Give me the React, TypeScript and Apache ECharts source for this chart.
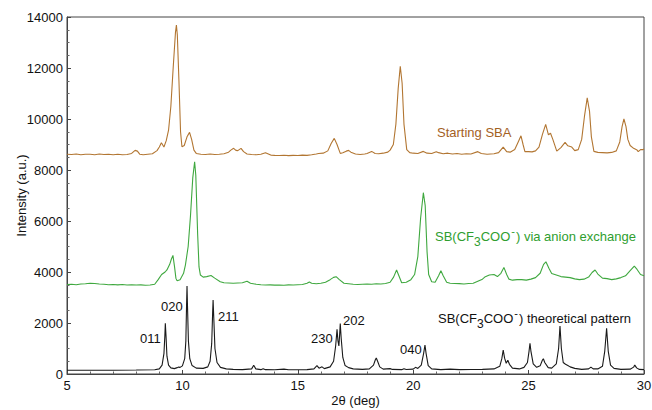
import React, { useEffect, useRef } from "react";
import * as echarts from "echarts";

// 2θ (deg), intensity (a.u.) pairs
const startingSBA: [number, number][] = [
  [5.0, 8620], [5.2, 8610], [5.4, 8630], [5.6, 8600], [5.8, 8620], [6.0, 8615], [6.2, 8600], [6.4, 8625],
  [6.6, 8610], [6.8, 8620], [7.0, 8595], [7.2, 8615], [7.4, 8600], [7.6, 8610], [7.8, 8650], [7.95, 8770],
  [8.05, 8740], [8.15, 8620], [8.3, 8600], [8.5, 8620], [8.7, 8640], [8.9, 8760], [9.0, 8900], [9.09, 9070],
  [9.2, 8900], [9.3, 9150], [9.4, 9560], [9.5, 10500], [9.6, 12000], [9.7, 13400], [9.74, 13680], [9.78, 13300],
  [9.85, 11500], [9.92, 9500], [9.98, 8910], [10.08, 8960], [10.2, 9300], [10.31, 9475], [10.4, 9200], [10.5, 8780],
  [10.6, 8650], [10.8, 8620], [11.0, 8610], [11.2, 8625], [11.4, 8605], [11.6, 8620], [11.8, 8640], [12.0, 8700],
  [12.1, 8780], [12.22, 8850], [12.32, 8770], [12.4, 8760], [12.54, 8850], [12.65, 8720], [12.8, 8630], [13.0, 8610],
  [13.2, 8600], [13.4, 8620], [13.6, 8680], [13.7, 8640], [13.85, 8580], [14.0, 8575], [14.2, 8570], [14.4, 8580],
  [14.6, 8565], [14.8, 8575], [15.0, 8570], [15.2, 8585], [15.4, 8575], [15.6, 8600], [15.8, 8630], [15.9, 8650],
  [16.1, 8660], [16.3, 8750], [16.45, 9050], [16.58, 9240], [16.7, 9000], [16.84, 8650], [16.95, 8680], [17.1, 8740],
  [17.2, 8770], [17.3, 8700], [17.5, 8630], [17.7, 8610], [17.9, 8630], [18.0, 8650], [18.2, 8730], [18.35, 8650],
  [18.5, 8640], [18.7, 8660], [18.9, 8700], [19.0, 8780], [19.14, 9000], [19.25, 9800], [19.35, 11200], [19.44, 12070],
  [19.52, 11400], [19.6, 9800], [19.72, 8800], [19.85, 8680], [20.0, 8660], [20.2, 8650], [20.44, 8730], [20.6, 8660],
  [20.8, 8650], [21.0, 8720], [21.1, 8680], [21.3, 8640], [21.5, 8660], [21.7, 8630], [21.9, 8650], [22.1, 8620],
  [22.3, 8640], [22.5, 8630], [22.8, 8720], [22.95, 8650], [23.2, 8620], [23.5, 8640], [23.7, 8680], [23.9, 8900],
  [24.05, 8720], [24.2, 8700], [24.4, 8800], [24.55, 9100], [24.67, 9340], [24.76, 9000], [24.84, 8720], [25.0, 8720],
  [25.15, 8710], [25.3, 8750], [25.45, 8900], [25.6, 9400], [25.74, 9790], [25.86, 9380], [25.95, 9440], [26.05, 9200],
  [26.22, 8740], [26.4, 8880], [26.58, 9080], [26.7, 8950], [26.87, 8900], [27.0, 8760], [27.15, 8800], [27.3, 9200],
  [27.42, 10100], [27.54, 10830], [27.64, 10300], [27.72, 9300], [27.83, 8730], [28.0, 8690], [28.2, 8680], [28.4, 8670],
  [28.6, 8690], [28.8, 8750], [28.95, 9100], [29.05, 9700], [29.13, 10000], [29.22, 9700], [29.3, 9200], [29.4, 8960],
  [29.55, 8850], [29.7, 8780], [29.75, 8720], [29.85, 8800], [29.96, 8800], [30.0, 8820],
];

const anionExchange: [number, number][] = [
  [5.0, 3510], [5.2, 3520], [5.4, 3500], [5.6, 3530], [5.8, 3540], [6.0, 3560], [6.2, 3550], [6.4, 3530],
  [6.6, 3520], [6.8, 3500], [7.0, 3510], [7.2, 3495], [7.4, 3510], [7.6, 3490], [7.8, 3500], [8.0, 3490],
  [8.2, 3495], [8.4, 3480], [8.6, 3490], [8.8, 3520], [8.95, 3700], [9.1, 3900], [9.25, 4000], [9.33, 4080],
  [9.45, 4300], [9.52, 4500], [9.59, 4650], [9.66, 4200], [9.72, 3750], [9.77, 3660], [9.9, 3700], [10.05, 3950],
  [10.13, 4270], [10.25, 5000], [10.35, 6200], [10.45, 7700], [10.53, 8325], [10.58, 7800], [10.66, 5500], [10.72, 4200],
  [10.78, 3880], [10.9, 3800], [11.05, 3820], [11.24, 3860], [11.4, 3760], [11.64, 3620], [11.8, 3580], [12.0, 3570],
  [12.2, 3560], [12.4, 3570], [12.6, 3580], [12.8, 3640], [12.95, 3560], [13.2, 3520], [13.4, 3500], [13.6, 3490],
  [13.8, 3495], [14.0, 3485], [14.2, 3490], [14.4, 3480], [14.6, 3495], [14.8, 3490], [15.0, 3500], [15.2, 3510],
  [15.4, 3560], [15.5, 3610], [15.6, 3560], [15.8, 3540], [16.0, 3560], [16.2, 3600], [16.4, 3700], [16.55, 3790],
  [16.66, 3815], [16.8, 3700], [17.0, 3560], [17.2, 3540], [17.4, 3520], [17.6, 3510], [17.8, 3520], [18.0, 3530],
  [18.2, 3520], [18.4, 3540], [18.6, 3530], [18.8, 3550], [19.0, 3600], [19.15, 3800], [19.28, 4080], [19.38, 3850],
  [19.5, 3580], [19.7, 3600], [19.9, 3700], [20.06, 3900], [20.2, 4600], [20.32, 6100], [20.44, 7110], [20.52, 6600],
  [20.6, 4800], [20.67, 3900], [20.8, 3620], [20.95, 3600], [21.1, 3850], [21.2, 4050], [21.3, 3850], [21.45, 3600],
  [21.6, 3560], [21.8, 3550], [22.0, 3545], [22.2, 3530], [22.4, 3550], [22.6, 3560], [22.8, 3640], [23.0, 3720],
  [23.1, 3800], [23.3, 3880], [23.5, 3900], [23.65, 3820], [23.8, 3950], [23.93, 4180], [24.05, 3900], [24.15, 3720],
  [24.3, 3680], [24.5, 3700], [24.7, 3700], [24.9, 3680], [25.1, 3720], [25.3, 3780], [25.5, 3950], [25.65, 4300],
  [25.75, 4400], [25.88, 4150], [26.0, 3940], [26.2, 3880], [26.4, 3820], [26.6, 3800], [26.8, 3780], [27.0, 3730],
  [27.2, 3700], [27.4, 3720], [27.6, 3800], [27.75, 3980], [27.88, 4080], [28.0, 3920], [28.2, 3760], [28.4, 3740],
  [28.6, 3700], [28.8, 3730], [29.0, 3780], [29.2, 3850], [29.4, 4050], [29.58, 4230], [29.7, 4100], [29.85, 3900],
  [30.0, 3850],
];

const theoretical: [number, number][] = [
  [5.0, 150], [6.0, 150], [7.0, 150], [8.0, 155], [8.8, 165], [9.0, 200], [9.12, 350], [9.2, 800],
  [9.24, 1500], [9.26, 1990], [9.29, 1500], [9.33, 700], [9.4, 350], [9.5, 240], [9.65, 210], [9.78, 250],
  [9.82, 270], [9.9, 260], [10.0, 320], [10.1, 600], [10.15, 1300], [10.18, 2700], [10.2, 3450], [10.22, 2700],
  [10.26, 1300], [10.32, 600], [10.42, 330], [10.6, 230], [10.9, 220], [11.1, 280], [11.2, 500], [11.27, 1200],
  [11.31, 2400], [11.33, 2900], [11.36, 2200], [11.41, 1000], [11.5, 450], [11.65, 260], [11.9, 200], [12.2, 180],
  [12.6, 170], [13.0, 200], [13.09, 340], [13.18, 200], [13.4, 170], [13.5, 210], [13.6, 170], [14.0, 165],
  [14.4, 190], [14.6, 165], [15.0, 165], [15.4, 170], [15.7, 200], [15.83, 330], [15.92, 230], [16.05, 280],
  [16.15, 210], [16.4, 280], [16.55, 500], [16.64, 1100], [16.7, 1750], [16.74, 1300], [16.78, 1100], [16.81, 1500],
  [16.84, 1980], [16.88, 1400], [16.95, 650], [17.05, 330], [17.2, 250], [17.4, 200], [17.8, 180], [18.1, 200],
  [18.28, 350], [18.36, 560], [18.4, 630], [18.45, 520], [18.55, 280], [18.7, 190], [19.0, 210], [19.1, 180],
  [19.5, 170], [19.6, 210], [19.7, 175], [20.0, 190], [20.1, 260], [20.2, 220], [20.35, 350], [20.45, 800],
  [20.51, 1130], [20.56, 800], [20.65, 330], [20.8, 200], [21.2, 170], [21.6, 190], [22.0, 170], [22.5, 175],
  [23.0, 180], [23.5, 200], [23.75, 300], [23.84, 600], [23.9, 940], [23.96, 620], [24.03, 420], [24.1, 540],
  [24.17, 380], [24.3, 230], [24.6, 200], [24.8, 260], [24.95, 450], [25.02, 900], [25.06, 1200], [25.1, 900],
  [25.2, 400], [25.35, 260], [25.5, 320], [25.6, 550], [25.64, 600], [25.7, 450], [25.85, 250], [26.0, 230],
  [26.2, 400], [26.3, 1000], [26.36, 1880], [26.42, 1000], [26.5, 450], [26.6, 380], [26.7, 330], [26.8, 280],
  [27.0, 220], [27.3, 180], [27.6, 200], [27.7, 270], [27.8, 200], [28.0, 200], [28.2, 300], [28.3, 900],
  [28.38, 1790], [28.45, 900], [28.55, 350], [28.7, 220], [29.0, 180], [29.4, 190], [29.55, 270], [29.6, 350],
  [29.68, 240], [29.8, 180], [30.0, 170],
];

const xTicks = { min: 5, max: 30, interval: 5 };
const yTicks = { min: 0, max: 14000, interval: 2000 };
const peakLabels = ["011", "020", "211", "230", "202", "040"];

const FONT = '"Liberation Sans", Arial, Helvetica, sans-serif';
const BROWN = "#b27632";
const BROWN_TXT = "#a4611f";
const GREEN = "#3fa83f";
const GREEN_TXT = "#2f9e2f";
const BLACK = "#1a1a1a";

function plainText(text: string, x: number, y: number, fill: string) {
  return {
    type: "text",
    x,
    y,
    silent: true,
    style: {
      text,
      fill,
      fontSize: 13,
      fontFamily: FONT,
      textAlign: "left",
      textVerticalAlign: "middle",
      align: "left",
      verticalAlign: "middle",
    },
  };
}

function formulaText(tail: string, x: number, y: number, fill: string) {
  return {
    type: "text",
    x,
    y,
    silent: true,
    style: {
      text: `{a|SB(CF}{s|3}{a|COO}{p|-}{a|) ${tail}}`,
      fill,
      fontSize: 13,
      fontFamily: FONT,
      textAlign: "left",
      textVerticalAlign: "middle",
      align: "left",
      verticalAlign: "middle",
      rich: {
        a: { fontSize: 13, fontFamily: FONT, fill, lineHeight: 28 },
        s: { fontSize: 12, fontFamily: FONT, fill, verticalAlign: "bottom", textVerticalAlign: "bottom", padding: [0, 0, 2, 0] },
        p: { fontSize: 11, fontFamily: FONT, fill, verticalAlign: "top", textVerticalAlign: "top", padding: [3, 1, 0, 1] },
      },
    },
  };
}

export default function App() {
  const ref = useRef<HTMLDivElement>(null);
  useEffect(() => {
    document.body.style.margin = "0";
    if (!ref.current) return;
    const chart = echarts.init(ref.current, undefined, { renderer: "svg" });
    const axisCommon = {
      axisLine: { show: true, lineStyle: { color: "#444", width: 1 } },
      axisTick: { show: true, inside: true, length: 4, lineStyle: { color: "#444" } },
      minorTick: { show: true, length: 2.5, lineStyle: { color: "#666" } },
      splitLine: { show: false },
      axisLabel: { color: "#111", fontSize: 13, fontFamily: FONT, formatter: (v: number) => String(v) },
      nameTextStyle: { color: "#111", fontSize: 13, fontFamily: FONT },
      nameMoveOverlap: false,
    };
    chart.setOption({
      animation: false,
      grid: {
        left: 67, right: 8, top: 17, bottom: 36,
        show: true, borderColor: "#444", borderWidth: 1,
        containLabel: false, outerBoundsMode: "none",
      },
      xAxis: {
        type: "value",
        ...xTicks,
        ...axisCommon,
        minorTick: { ...axisCommon.minorTick, splitNumber: 5 },
        axisLabel: { ...axisCommon.axisLabel, margin: 5 },
        name: "2θ (deg)",
        nameLocation: "middle",
        nameGap: 20,
      },
      yAxis: {
        type: "value",
        ...yTicks,
        ...axisCommon,
        minorTick: { ...axisCommon.minorTick, splitNumber: 4 },
        axisLabel: { ...axisCommon.axisLabel, margin: 4 },
        name: "Intensity (a.u.)",
        nameLocation: "middle",
        nameGap: 39,
      },
      series: [
        { type: "line", name: "Starting SBA", data: startingSBA, showSymbol: false, symbol: "none", lineStyle: { color: BROWN, width: 1.1 }, itemStyle: { color: BROWN } },
        { type: "line", name: "anion exchange", data: anionExchange, showSymbol: false, symbol: "none", lineStyle: { color: GREEN, width: 1.1 }, itemStyle: { color: GREEN } },
        { type: "line", name: "theoretical", data: theoretical, showSymbol: false, symbol: "none", lineStyle: { color: BLACK, width: 1.1 }, itemStyle: { color: BLACK } },
      ],
      graphic: [
        plainText("Starting SBA", 437, 132, BROWN_TXT),
        formulaText("via anion exchange", 435, 236, GREEN_TXT),
        formulaText("theoretical pattern", 438, 318, "#111"),
        plainText(peakLabels[0], 140, 338, "#111"),
        plainText(peakLabels[1], 161, 306, "#111"),
        plainText(peakLabels[2], 218, 316, "#111"),
        plainText(peakLabels[3], 311, 338, "#111"),
        plainText(peakLabels[4], 343, 320, "#111"),
        plainText(peakLabels[5], 400, 349, "#111"),
      ],
    });
    return () => chart.dispose();
  }, []);
  return <div ref={ref} style={{ width: 652, height: 410 }} />;
}
